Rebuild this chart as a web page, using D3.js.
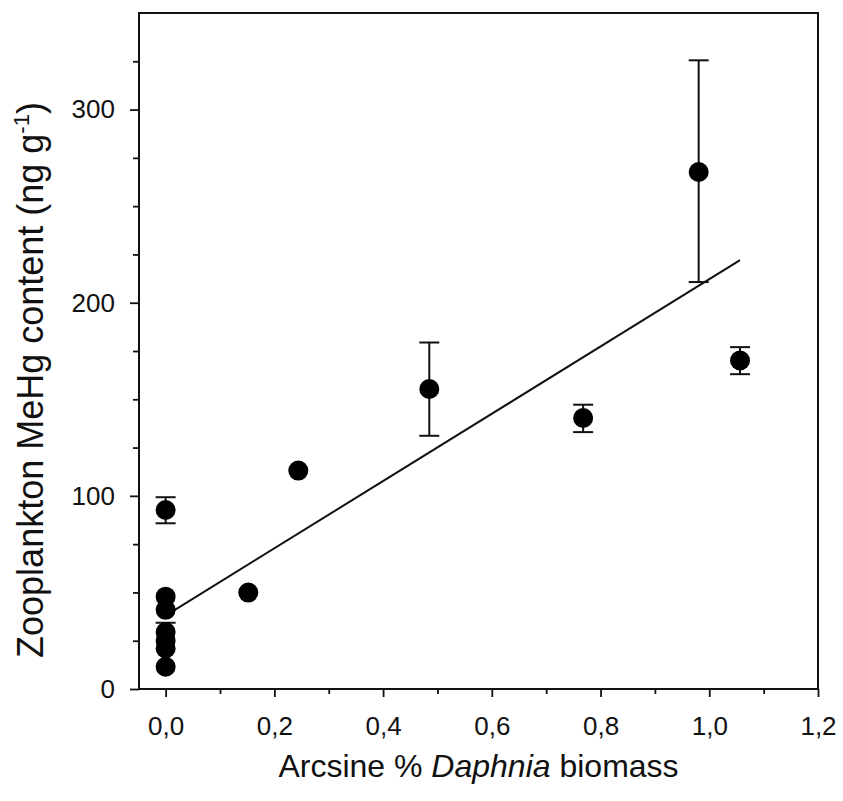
<!DOCTYPE html>
<html>
<head>
<meta charset="utf-8">
<script src="https://cdn.jsdelivr.net/npm/d3@7"></script>
<style>
  html, body { margin: 0; padding: 0; background: #fff; }
  svg { display: block; }
  text { font-family: "Liberation Sans", Arial, Helvetica, sans-serif; fill: #111; }
</style>
</head>
<body>
<svg id="chart" width="843" height="801"></svg>
<script>
// Arcsine-transformed Daphnia biomass share per lake
const daphniaArcsine = [0, 0, 0, 0, 0, 0, 0, 0.152, 0.244, 0.485, 0.768, 0.9805, 1.0566];
// Zooplankton MeHg content (ng/g), mean per lake
const mehgMean = [92.7, 47.8, 41, 29.5, 25, 21, 11.5, 49.9, 113.1, 155.3, 140.3, 267.7, 170.1];
// Error bar ends (null where no bar is drawn)
const errUpper = [99.3, null, null, 34.3, null, null, null, null, null, 179.4, 147.2, 325.5, 177];
const errLower = [85.8, null, null, null, null, null, null, null, null, 131.1, 133, 210.7, 163];
// Linear regression fit, drawn across the observed x range
const fitIntercept = 38;
const fitSlope = 174.2;
const fitRange = [0, 1.0566];
// Axis ticks
const xTicks = [0, 0.2, 0.4, 0.6, 0.8, 1.0, 1.2];
const xMinorTicks = [0.1, 0.3, 0.5, 0.7, 0.9, 1.1];
const yTicks = [0, 100, 200, 300];
const yMinorTicks = [25, 50, 75, 125, 150, 175, 225, 250, 275, 325];

const svg = d3.select("#chart");
const plotLeft = 139, plotRight = 818, plotTop = 13, plotBottom = 689;

const x = d3.scaleLinear().domain([-0.049, 1.2]).range([plotLeft, plotRight]);
const y = d3.scaleLinear().domain([0, 350]).range([plotBottom, plotTop]);

const commaLocale = d3.formatLocale({ decimal: ",", thousands: ".", grouping: [3], currency: ["", ""] });
const fmtX = commaLocale.format(".1f");

// X axis: major and minor ticks
const gx = svg.append("g").attr("transform", `translate(0,${plotBottom})`);
gx.call(d3.axisBottom(x).tickValues(xTicks).tickFormat(fmtX).tickSize(8).tickSizeOuter(0).tickPadding(20));
const gxMinor = svg.append("g").attr("transform", `translate(0,${plotBottom})`);
gxMinor.call(d3.axisBottom(x).tickValues(xMinorTicks).tickFormat("").tickSize(5).tickSizeOuter(0));

// Y axis: major and minor ticks
const gy = svg.append("g").attr("transform", `translate(${plotLeft},0)`);
gy.call(d3.axisLeft(y).tickValues(yTicks).tickFormat(d3.format("d")).tickSize(9).tickSizeOuter(0).tickPadding(15));
const gyMinor = svg.append("g").attr("transform", `translate(${plotLeft},0)`);
gyMinor.call(d3.axisLeft(y).tickValues(yMinorTicks).tickFormat("").tickSize(6).tickSizeOuter(0));

svg.selectAll(".domain").remove();
svg.selectAll(".tick line").attr("stroke", "#111").attr("stroke-width", 1.8);
svg.selectAll(".tick text").attr("font-size", 26).style("fill", "#111")
  .attr("font-family", "'Liberation Sans', Arial, sans-serif");
gx.selectAll(".tick text").attr("dy", "0.7em");

// Frame around the plot area
svg.append("rect")
  .attr("x", x.range()[0]).attr("y", y.range()[1])
  .attr("width", x.range()[1] - x.range()[0])
  .attr("height", y.range()[0] - y.range()[1])
  .attr("fill", "none").attr("stroke", "#111").attr("stroke-width", 2);

// Regression line
svg.append("line")
  .attr("x1", x(fitRange[0])).attr("y1", y(fitIntercept + fitSlope * fitRange[0]))
  .attr("x2", x(fitRange[1])).attr("y2", y(fitIntercept + fitSlope * fitRange[1]))
  .attr("stroke", "#111").attr("stroke-width", 2);

const pts = daphniaArcsine.map((d, i) => ({ x: d, y: mehgMean[i], hi: errUpper[i], lo: errLower[i] }));
const capHalf = 10;

// Error bars
const eb = svg.append("g").attr("stroke", "#111").attr("stroke-width", 2);
pts.forEach(p => {
  if (p.hi != null) {
    eb.append("line").attr("x1", x(p.x)).attr("x2", x(p.x)).attr("y1", y(p.y)).attr("y2", y(p.hi));
    eb.append("line").attr("x1", x(p.x) - capHalf).attr("x2", x(p.x) + capHalf).attr("y1", y(p.hi)).attr("y2", y(p.hi));
  }
  if (p.lo != null) {
    eb.append("line").attr("x1", x(p.x)).attr("x2", x(p.x)).attr("y1", y(p.y)).attr("y2", y(p.lo));
    eb.append("line").attr("x1", x(p.x) - capHalf).attr("x2", x(p.x) + capHalf).attr("y1", y(p.lo)).attr("y2", y(p.lo));
  }
});

// Points
svg.append("g").selectAll("circle").data(pts).join("circle")
  .attr("cx", d => x(d.x)).attr("cy", d => y(d.y)).attr("r", 10)
  .attr("fill", "#000");

// Axis titles
const xt = svg.append("text")
  .attr("x", (plotLeft + plotRight) / 2).attr("y", 777)
  .attr("text-anchor", "middle").attr("font-size", 32);
xt.append("tspan").text("Arcsine % ");
xt.append("tspan").attr("font-style", "italic").text("Daphnia");
xt.append("tspan").text(" biomass");

const yt = svg.append("text")
  .attr("transform", "translate(43,380) rotate(-90)")
  .attr("text-anchor", "middle").attr("font-size", 36);
yt.append("tspan").text("Zooplankton MeHg content (ng g");
yt.append("tspan").attr("font-size", 22).attr("dy", -14).text("-1");
yt.append("tspan").attr("dy", 14).text(")");
</script>
</body>
</html>
